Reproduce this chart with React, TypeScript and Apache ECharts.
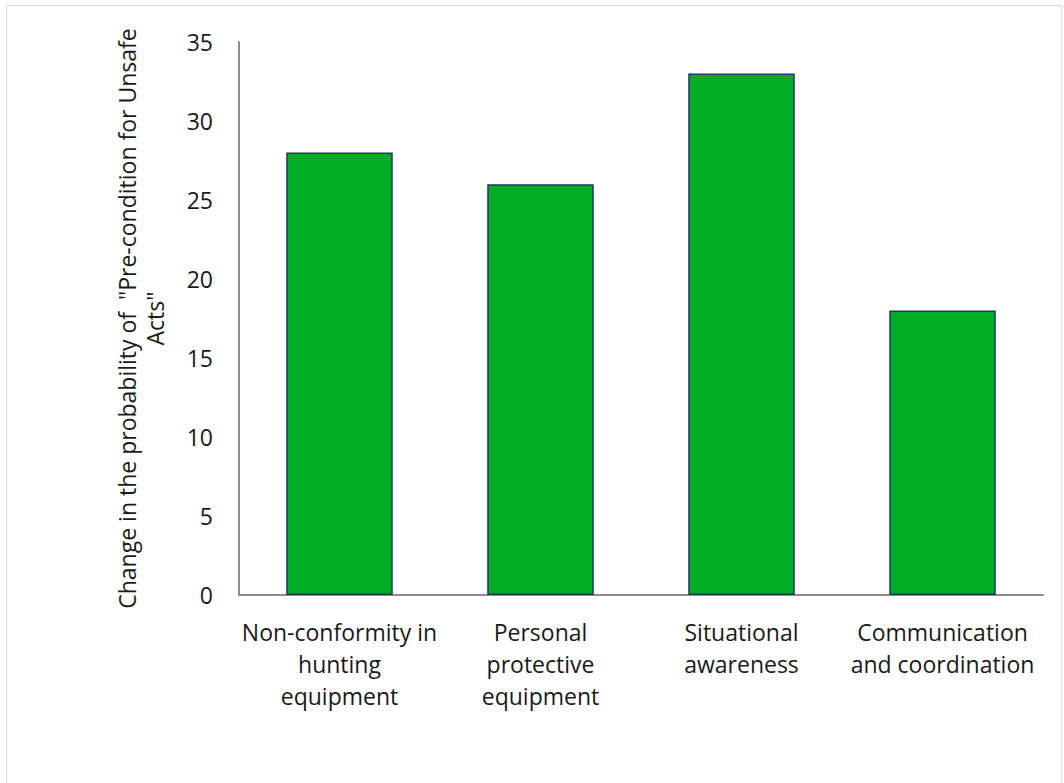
import React, { useEffect, useRef } from "react";
import * as echarts from "echarts";

// Factor categories (line breaks as shown under the axis)
const categories: string[] = [
  "Non-conformity in\nhunting\nequipment",
  "Personal\nprotective\nequipment",
  "Situational\nawareness",
  "Communication\nand coordination",
];

// Change in probability for each factor
const changeValues: number[] = [28, 26, 33, 18];

// Value axis settings
const yMin = 0;
const yMax = 35;
const yStep = 5;

const yTitle = 'Change in the probability of  "Pre-condition for Unsafe\nActs"';

const FONT = "'Open Sans', 'Noto Sans', sans-serif";
const FONT_SIZE = 23;

export default function App() {
  const ref = useRef<HTMLDivElement>(null);

  useEffect(() => {
    document.body.style.margin = "0";
    document.body.style.overflow = "hidden";
    if (!ref.current) return;
    const chart = echarts.init(ref.current, undefined, { renderer: "svg" });
    chart.setOption({
      animation: false,
      backgroundColor: "#ffffff",
      textStyle: { fontFamily: FONT },
      grid: { left: 239, top: 42, right: 21, bottom: 188, containLabel: false },
      xAxis: {
        type: "category",
        data: categories,
        axisLine: { show: true, lineStyle: { color: "#8c8c8c", width: 2 } },
        axisTick: { show: false },
        axisLabel: {
          color: "#1a1a1a",
          fontSize: FONT_SIZE,
          fontFamily: FONT,
          lineHeight: 32,
          margin: 21,
          interval: 0,
        },
      },
      yAxis: {
        type: "value",
        min: yMin,
        max: yMax,
        interval: yStep,
        axisLine: { show: true, lineStyle: { color: "#8c8c8c", width: 2 } },
        axisTick: { show: false },
        splitLine: { show: false },
        axisLabel: { color: "#1a1a1a", fontSize: FONT_SIZE, fontFamily: FONT, margin: 26 },
        name: yTitle,
        nameLocation: "middle",
        nameRotate: 90,
        nameGap: 70,
        nameTextStyle: {
          color: "#1a1a1a",
          fontSize: FONT_SIZE,
          fontFamily: FONT,
          lineHeight: 28,
          align: "center",
        },
      },
      series: [
        {
          type: "bar",
          data: changeValues,
          barWidth: "53%",
          itemStyle: {
            color: "#00ae26",
            borderColor: "#203864",
            borderWidth: 1.5,
          },
        },
      ],
    });
    return () => chart.dispose();
  }, []);

  return (
    <div style={{ position: "fixed", left: 0, top: 0, width: 1064, height: 783 }}>
      <div ref={ref} style={{ position: "absolute", left: 0, top: 0, width: 1064, height: 783 }} />
      <div
        style={{
          position: "absolute",
          left: 6,
          top: 5,
          width: 1056,
          height: 820,
          border: "1px solid #d9d9d9",
          pointerEvents: "none",
          boxSizing: "border-box",
        }}
      />
    </div>
  );
}
